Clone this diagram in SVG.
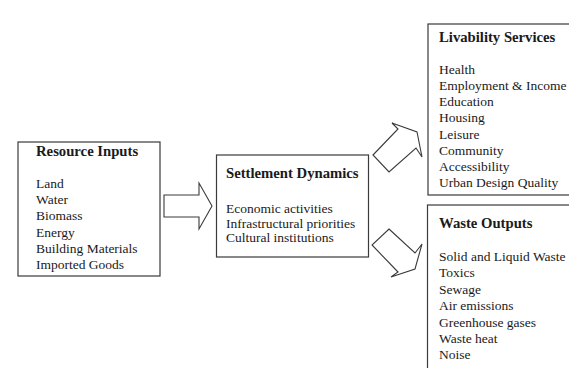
<svg xmlns="http://www.w3.org/2000/svg" width="569" height="368" viewBox="0 0 569 368">
  <style>
    .box { fill: #ffffff; stroke: #3a3a3a; stroke-width: 1.2; }
    .arrow { fill: #ffffff; stroke: #3a3a3a; stroke-width: 1.1; stroke-linejoin: miter; }
    text { font-family: "Liberation Serif", "Times New Roman", serif; font-size: 13.5px; fill: #1a1a1a; }
    .title { font-weight: bold; font-size: 14.7px; }
  </style>
  <rect width="569" height="368" fill="#ffffff"/>

  <g id="resource-inputs">
    <rect class="box" x="18" y="142" width="142" height="134"/>
    <text class="title" x="36" y="156">Resource Inputs</text>
    <text x="36" y="188">Land</text>
    <text x="36" y="204.2">Water</text>
    <text x="36" y="220.4">Biomass</text>
    <text x="36" y="236.6">Energy</text>
    <text x="36" y="252.8">Building Materials</text>
    <text x="36" y="269">Imported Goods</text>
  </g>

  <g id="settlement-dynamics">
    <rect class="box" x="216.5" y="155" width="152" height="102"/>
    <text class="title" x="226" y="178">Settlement Dynamics</text>
    <text x="226" y="213">Economic activities</text>
    <text x="226" y="227.5">Infrastructural priorities</text>
    <text x="226" y="242">Cultural institutions</text>
  </g>

  <g id="livability-services">
    <rect class="box" x="428" y="24" width="150" height="171"/>
    <text class="title" x="439" y="42">Livability Services</text>
    <text x="439" y="74">Health</text>
    <text x="439" y="90.2">Employment &amp; Income</text>
    <text x="439" y="106.3">Education</text>
    <text x="439" y="122.4">Housing</text>
    <text x="439" y="138.6">Leisure</text>
    <text x="439" y="154.7">Community</text>
    <text x="439" y="170.9">Accessibility</text>
    <text x="439" y="187">Urban Design Quality</text>
  </g>

  <g id="waste-outputs">
    <rect class="box" x="427.5" y="205" width="150" height="175"/>
    <text class="title" x="439" y="228">Waste Outputs</text>
    <text x="439" y="261">Solid and Liquid Waste</text>
    <text x="439" y="277.4">Toxics</text>
    <text x="439" y="293.8">Sewage</text>
    <text x="439" y="310.2">Air emissions</text>
    <text x="439" y="326.6">Greenhouse gases</text>
    <text x="439" y="343">Waste heat</text>
    <text x="439" y="359.4">Noise</text>
  </g>

  <g id="connectors">
    <!-- block arrow: inputs to settlement -->
    <polygon class="arrow" points="164,195 199,195 199,183 212,206 199,229 199,217 164,217"/>
    <!-- block arrow: settlement up to livability -->
    <polygon class="arrow" points="373,155 398,129 392,123 417,132 422,157 416,148 389,172"/>
    <!-- block arrow: settlement down to waste -->
    <polygon class="arrow" points="389,229 415,253 422,244 415,269 391,277 398,272 372,245"/>
  </g>
</svg>
